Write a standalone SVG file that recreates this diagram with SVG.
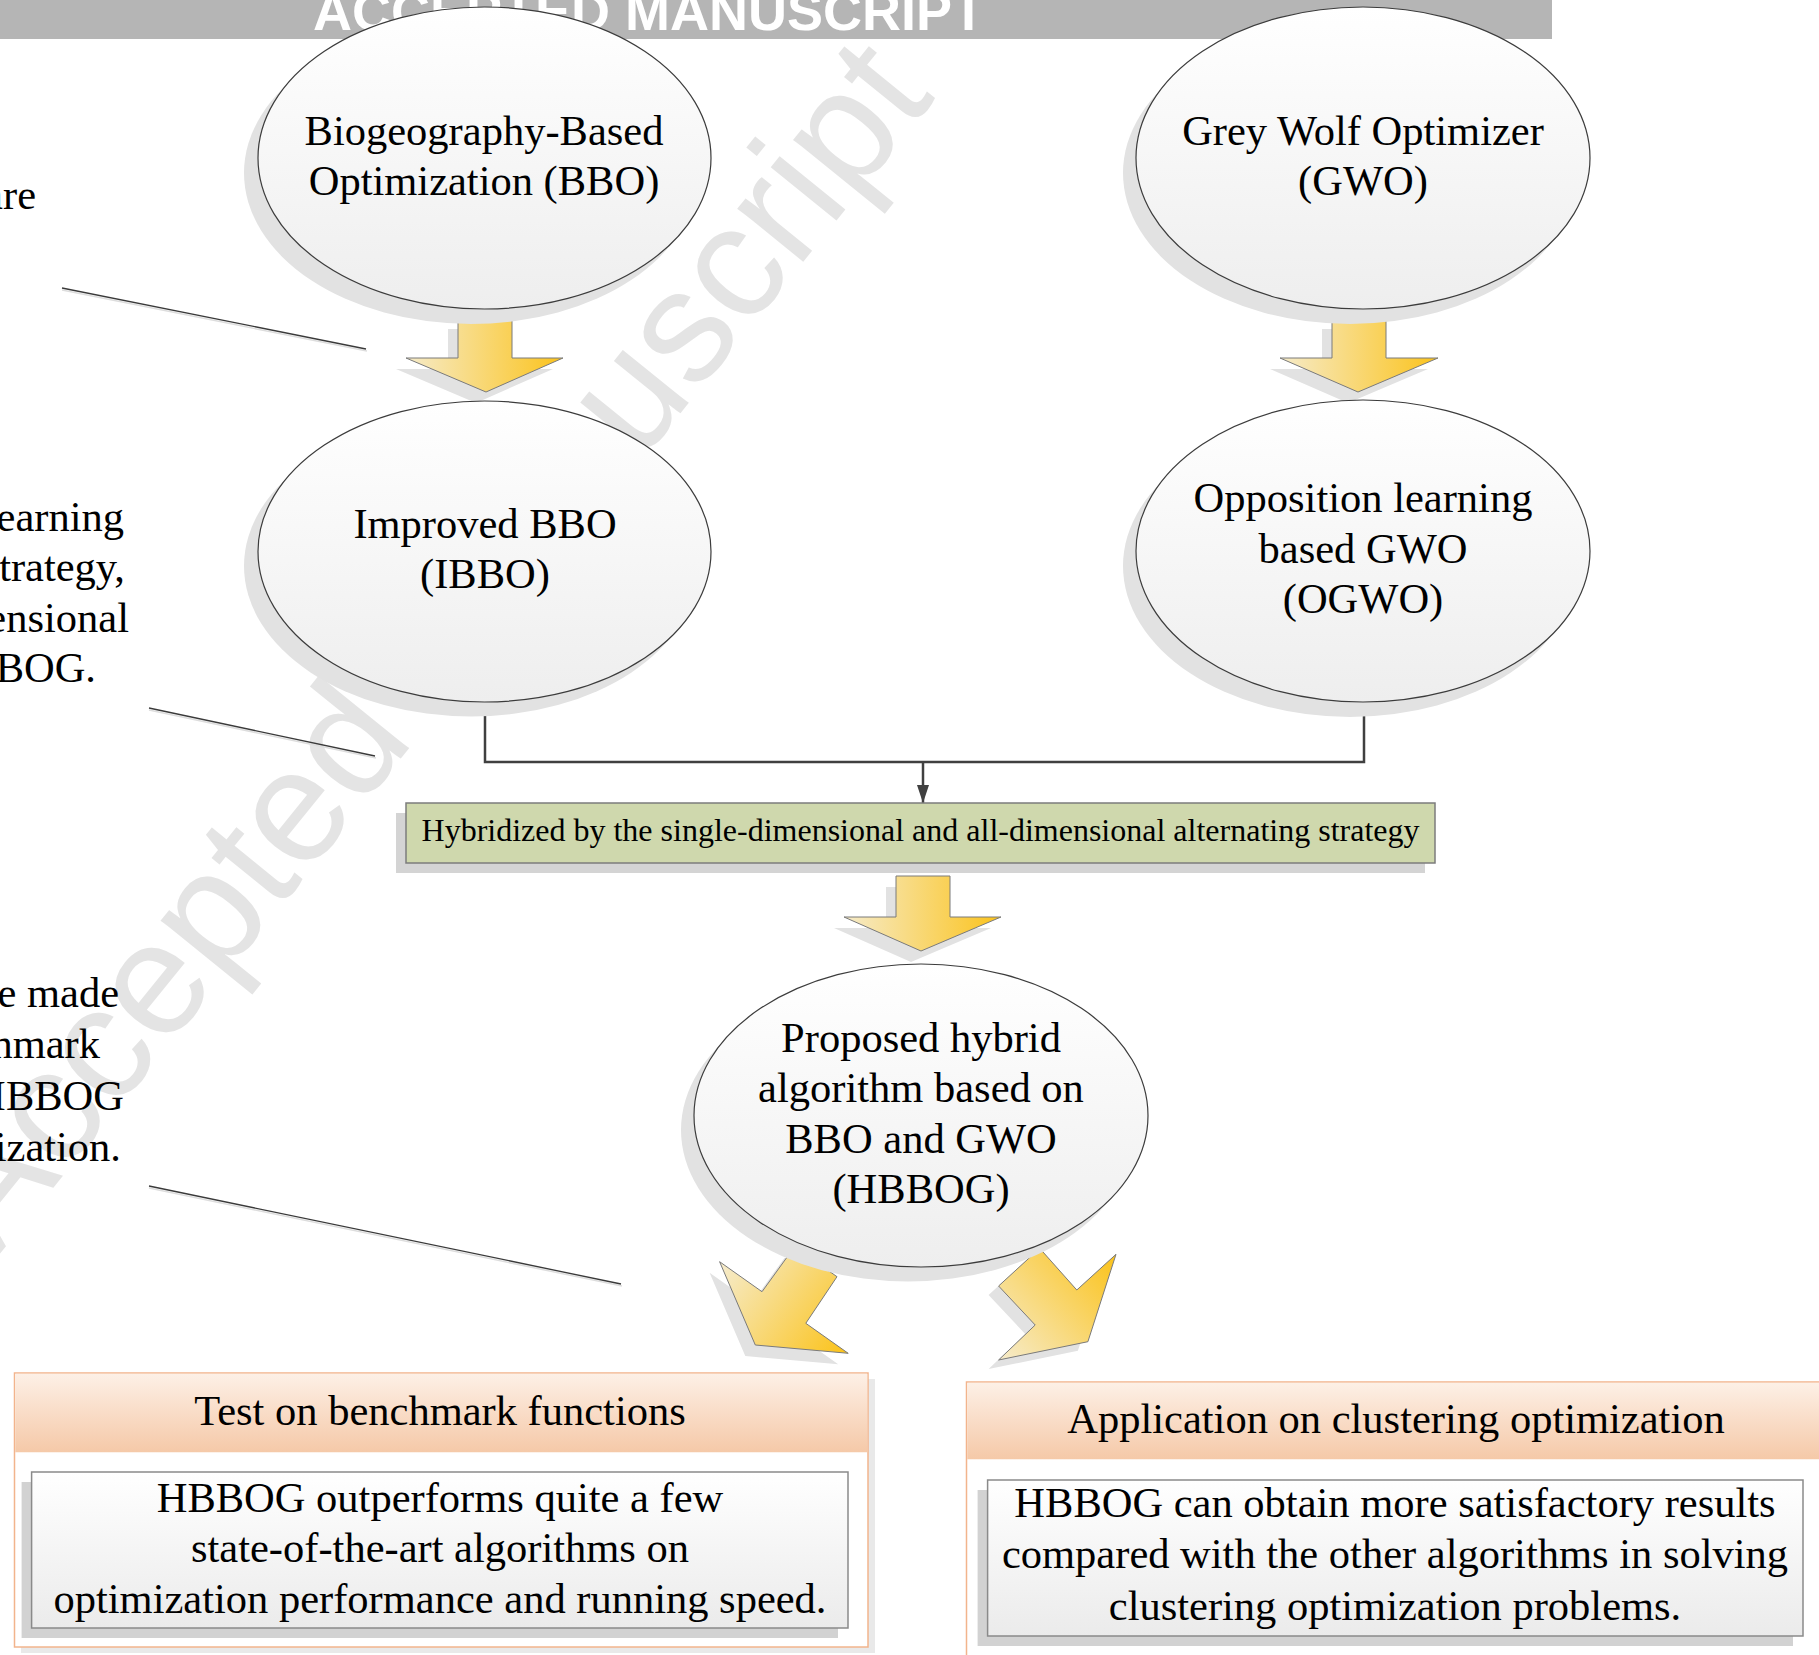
<svg xmlns="http://www.w3.org/2000/svg" width="1819" height="1655" viewBox="0 0 1819 1655">
<defs>
<style>
.t{font-family:"Liberation Serif","Times New Roman",serif;font-size:42.5px;fill:#000}
.tc{text-anchor:middle}
.te{text-anchor:end}
.node{stroke:#3c3c3c;stroke-width:1.2;fill:url(#gEll)}
.shadow{fill:#e2e2e2}
.arrow{stroke:#7a7a7a;stroke-width:1}
.conn{fill:none;stroke:#404040;stroke-width:2.5}
.callout{stroke:#3a3a3a;stroke-width:1.3}
.callsh{stroke:#dddddd;stroke-width:1.5}
.outer{fill:#ffffff;stroke:#f2b48c;stroke-width:1.5}
.inner{fill:url(#gInner);stroke:#8a8a8a;stroke-width:1.5}
</style>
<linearGradient id="gEll" x1="0" y1="0" x2="0" y2="1"><stop offset="0" stop-color="#ffffff"/><stop offset="1" stop-color="#eeeeee"/></linearGradient>
<linearGradient id="gArr" x1="0" y1="0" x2="1" y2="0"><stop offset="0" stop-color="#f6ebc9"/><stop offset="1" stop-color="#fbc31c"/></linearGradient>
<linearGradient id="gArrL" gradientUnits="userSpaceOnUse" x1="725" y1="1262" x2="845" y2="1352"><stop offset="0" stop-color="#f6ebc9"/><stop offset="1" stop-color="#fbc31c"/></linearGradient>
<linearGradient id="gArrR" gradientUnits="userSpaceOnUse" x1="1000" y1="1358" x2="1114" y2="1256"><stop offset="0" stop-color="#f6ebc9"/><stop offset="1" stop-color="#fbc31c"/></linearGradient>
<linearGradient id="gHead" x1="0" y1="0" x2="0" y2="1"><stop offset="0" stop-color="#fdf0e6"/><stop offset="1" stop-color="#f5c9a8"/></linearGradient>
<linearGradient id="gInner" x1="0" y1="0" x2="0" y2="1"><stop offset="0" stop-color="#ffffff"/><stop offset="1" stop-color="#ebebeb"/></linearGradient>
<marker id="ah" viewBox="0 0 18 12" refX="18" refY="6" markerWidth="18" markerHeight="12" markerUnits="userSpaceOnUse" orient="auto"><path d="M0,0 L18,6 L0,12 z" fill="#404040"/></marker>
</defs>
<rect x="0" y="0" width="1819" height="1655" fill="#ffffff"/>

<!-- watermark -->
<text x="466" y="678" transform="rotate(-51 466 678)" font-family="Liberation Sans, Arial, sans-serif" font-size="160" fill="#e4e4e4" text-anchor="middle">Accepted Manuscript</text>

<!-- banner -->
<g id="banner">
<rect x="0" y="0" width="1552" height="39" fill="#b5b5b5"/>
<text x="313" y="30" font-family="Liberation Sans, Arial, sans-serif" font-weight="bold" font-size="54" fill="#ffffff">ACCEPTED MANUSCRIPT</text>
</g>

<!-- page text fragments and callout lines -->
<g id="page-text">
<text class="t te" x="36" y="209">are</text>
<text class="t te" x="124" y="531">earning</text>
<text class="t te" x="125" y="581">trategy,</text>
<text class="t te" x="129" y="632">ensional</text>
<text class="t te" x="96" y="682">BOG.</text>
<text class="t te" x="119" y="1007">e made</text>
<text class="t te" x="100" y="1058">nmark</text>
<text class="t te" x="124" y="1110">IBBOG</text>
<text class="t te" x="121" y="1161">ization.</text>
<line class="callsh" x1="62" y1="290" x2="367" y2="351"/>
<line class="callout" x1="62" y1="288" x2="366" y2="349"/>
<line class="callsh" x1="149" y1="710" x2="376" y2="758"/>
<line class="callout" x1="149" y1="708" x2="375" y2="756"/>
<line class="callsh" x1="149" y1="1188" x2="622" y2="1286"/>
<line class="callout" x1="149" y1="1186" x2="621" y2="1284"/>
</g>

<!-- connectors -->
<g id="connectors">
<polyline class="conn" points="485,702 485,762 1364,762 1364,702"/>
<line class="conn" x1="923" y1="762" x2="923" y2="803" marker-end="url(#ah)"/>
<polygon class="shadow" points="448,329 502,329 502,369 553,369 476,403 396,369 448,369"/>
<polygon class="arrow" fill="url(#gArr)" points="458,318 512,318 512,358 563,358 486,392 406,358 458,358"/>
<polygon class="shadow" points="1322,329 1376,329 1376,369 1428,369 1348,403 1270,369 1322,369"/>
<polygon class="arrow" fill="url(#gArr)" points="1332,318 1386,318 1386,358 1438,358 1358,392 1280,358 1332,358"/>
<polygon class="shadow" points="886,887 940,887 940,928 991,928 911,962 834,928 886,928"/>
<polygon class="arrow" fill="url(#gArr)" points="896,876 950,876 950,917 1001,917 921,951 844,917 896,917"/>
<polygon class="shadow" points="784.6,1257.7 827,1287.7 795.8,1334.3 838.2,1364.3 745.3,1356 709.6,1272.7 752,1302.7"/>
<polygon class="arrow" fill="url(#gArrL)" points="794.6,1246.7 837,1276.7 805.8,1323.3 848.2,1353.3 755.3,1345 719.6,1261.7 762,1291.7"/>
<polygon class="shadow" points="1029.7,1257.3 1066.8,1299 1106,1263.3 1077.9,1350.7 988.6,1369 1025.2,1334 988.6,1295"/>
<polygon class="arrow" fill="url(#gArrR)" points="1039.7,1248.3 1076.8,1290 1116,1254.3 1087.9,1341.7 998.6,1360 1035.2,1325 998.6,1286"/>
</g>

<!-- nodes -->
<g id="node-bbo">
<ellipse class="shadow" cx="471" cy="173" rx="227" ry="151"/>
<ellipse class="node" cx="484.5" cy="158" rx="226.5" ry="151"/>
<text class="t tc" x="484" y="145">Biogeography-Based</text>
<text class="t tc" x="484" y="195">Optimization (BBO)</text>
</g>
<g id="node-gwo">
<ellipse class="shadow" cx="1350" cy="173" rx="227" ry="151"/>
<ellipse class="node" cx="1363" cy="158" rx="227" ry="151"/>
<text class="t tc" x="1363" y="145">Grey Wolf Optimizer</text>
<text class="t tc" x="1363" y="195">(GWO)</text>
</g>
<g id="node-ibbo">
<ellipse class="shadow" cx="471" cy="566" rx="227" ry="150.5"/>
<ellipse class="node" cx="484.5" cy="551.5" rx="226.5" ry="150.5"/>
<text class="t tc" x="485" y="538">Improved BBO</text>
<text class="t tc" x="485" y="588">(IBBO)</text>
</g>
<g id="node-ogwo">
<ellipse class="shadow" cx="1350" cy="566" rx="227" ry="151"/>
<ellipse class="node" cx="1363" cy="551" rx="227" ry="151"/>
<text class="t tc" x="1363" y="512">Opposition learning</text>
<text class="t tc" x="1363" y="563">based GWO</text>
<text class="t tc" x="1363" y="613">(OGWO)</text>
</g>
<g id="node-hybrid">
<rect x="396" y="813" width="1029" height="60" fill="#d4d4d4"/>
<rect x="406" y="803" width="1029" height="60" fill="#cfd8ad" stroke="#7c7c7c" stroke-width="1.5"/>
<text class="t tc" x="920.5" y="841" style="font-size:32px">Hybridized by the single-dimensional and all-dimensional alternating strategy</text>
</g>
<g id="node-hbbog">
<ellipse class="shadow" cx="908" cy="1130" rx="227" ry="151.5"/>
<ellipse class="node" cx="921" cy="1115.5" rx="227" ry="151.5"/>
<text class="t tc" x="921" y="1052">Proposed hybrid</text>
<text class="t tc" x="921" y="1102">algorithm based on</text>
<text class="t tc" x="921" y="1153">BBO and GWO</text>
<text class="t tc" x="921" y="1203">(HBBOG)</text>
</g>
<g id="node-test">
<rect x="21" y="1379" width="854" height="274" fill="#e9e9e9"/>
<rect class="outer" x="14.5" y="1373" width="853.5" height="274"/>
<rect x="15.25" y="1373.75" width="852" height="78.5" fill="url(#gHead)"/>
<text class="t tc" x="440" y="1425">Test on benchmark functions</text>
<rect x="21.6" y="1482" width="816.4" height="156" fill="#d2d2d2"/>
<rect class="inner" x="31.6" y="1472" width="816.4" height="156"/>
<text class="t tc" x="440" y="1512">HBBOG outperforms quite a few</text>
<text class="t tc" x="440" y="1562">state-of-the-art algorithms on</text>
<text class="t tc" x="440" y="1613">optimization performance and running speed.</text>
</g>
<g id="node-app">
<rect class="outer" x="966.5" y="1382" width="870" height="290"/>
<rect x="967.25" y="1382.75" width="860" height="76.5" fill="url(#gHead)"/>
<text class="t tc" x="1396" y="1433">Application on clustering optimization</text>
<rect x="977.6" y="1490" width="815.4" height="156" fill="#d2d2d2"/>
<rect class="inner" x="987.6" y="1480" width="815.4" height="156"/>
<text class="t tc" x="1395" y="1517">HBBOG can obtain more satisfactory results</text>
<text class="t tc" x="1395" y="1568">compared with the other algorithms in solving</text>
<text class="t tc" x="1395" y="1620">clustering optimization problems.</text>
</g>
</svg>
